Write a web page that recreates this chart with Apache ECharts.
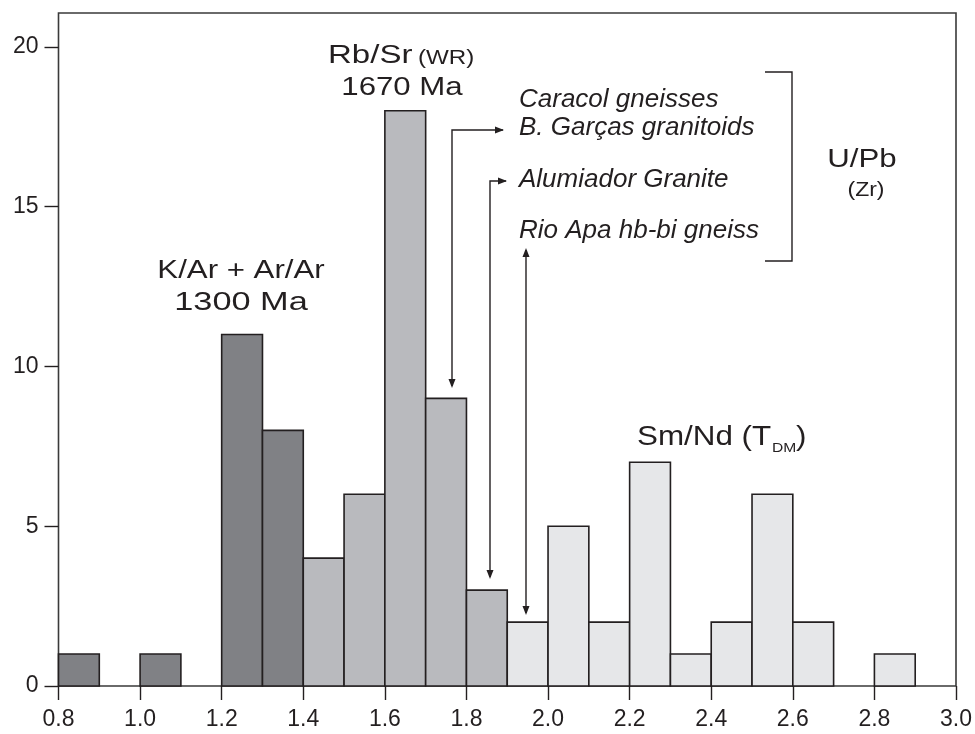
<!DOCTYPE html>
<html>
<head>
<meta charset="utf-8">
<script src="https://cdn.jsdelivr.net/npm/echarts@6/dist/echarts.min.js"></script>
<style>
  html, body { margin: 0; padding: 0; background: #fff; }
  #chart { width: 975px; height: 734px; }
</style>
</head>
<body>
<div id="chart"></div>
<script>
// Age histogram (Ga), bins 0.1 wide, grouped by dating method
const binWidth = 0.1;

const kArBins = [0.8, 1.0, 1.2, 1.3];
const kArCounts = [1, 1, 11, 8];

const rbSrBins = [1.4, 1.5, 1.6, 1.7, 1.8];
const rbSrCounts = [4, 6, 18, 9, 3];

const smNdBins = [1.9, 2.0, 2.1, 2.2, 2.3, 2.4, 2.5, 2.6, 2.8];
const smNdCounts = [2, 5, 2, 7, 1, 2, 6, 2, 1];

const xTicks = [0.8, 1.0, 1.2, 1.4, 1.6, 1.8, 2.0, 2.2, 2.4, 2.6, 2.8, 3.0];
const yTicks = [0, 5, 10, 15, 20];

const ink = '#231f20';
const font = '"Liberation Sans", Arial, Helvetica, sans-serif';

function pairs(bins, counts) {
  return bins.map((b, i) => [b, counts[i]]);
}

function histSeries(name, bins, counts, fill) {
  return {
    name: name,
    type: 'custom',
    data: pairs(bins, counts),
    encode: { x: 0, y: 1 },
    renderItem: function (params, api) {
      const x0 = api.value(0);
      const v = api.value(1);
      const a = api.coord([x0, 0]);
      const b = api.coord([x0 + binWidth, v]);
      return {
        type: 'rect',
        shape: { x: a[0], y: b[1], width: b[0] - a[0], height: a[1] - b[1] },
        style: { fill: fill, stroke: ink, lineWidth: 1.6 }
      };
    },
    z: 2
  };
}

const chart = echarts.init(document.getElementById('chart'), null, { renderer: 'canvas' });

chart.setOption({
  animation: false,
  backgroundColor: '#ffffff',
  grid: {
    left: 58.5, right: 19, top: 13, bottom: 48,
    show: true, borderColor: '#3a3a3a', borderWidth: 1.6, backgroundColor: 'transparent'
  },
  xAxis: {
    type: 'value', min: 0.8, max: 3.0, interval: 0.2,
    axisLine: { show: false },
    splitLine: { show: false },
    axisTick: { show: true, inside: false, length: 14, customValues: xTicks, lineStyle: { color: ink, width: 1.4 } },
    axisLabel: { customValues: xTicks, margin: 22, fontSize: 23, color: ink, fontFamily: font,
      formatter: v => v.toFixed(1) }
  },
  yAxis: {
    type: 'value', min: 0, max: 21.06, interval: 5,
    axisLine: { show: false },
    splitLine: { show: false },
    axisTick: { show: true, inside: false, length: 14, customValues: yTicks, lineStyle: { color: ink, width: 1.4 } },
    axisLabel: { customValues: yTicks, margin: 20, fontSize: 23, color: ink, fontFamily: font }
  },
  series: [
    histSeries('K/Ar + Ar/Ar', kArBins, kArCounts, '#808185'),
    histSeries('Rb/Sr', rbSrBins, rbSrCounts, '#b9babe'),
    histSeries('Sm/Nd', smNdBins, smNdCounts, '#e6e7e9')
  ]
});

// Annotations: method labels, U/Pb bracket and the arrows pointing at the bars.
// The lettering is set slightly wide, hence the horizontal scale factor.
function text(x, y, str, size, opts) {
  opts = opts || {};
  return {
    type: 'text', x: x, y: y, z: 10,
    scaleX: opts.sx || 1,
    style: {
      text: str, fill: ink, font: (opts.italic ? 'italic ' : '') + size + 'px ' + font,
      textAlign: opts.align || 'center', textVerticalAlign: 'middle'
    }
  };
}
function line(points) {
  return { type: 'polyline', z: 10, shape: { points: points }, style: { stroke: ink, lineWidth: 1.4, fill: null } };
}
function head(x, y, dir) {
  const L = 9, W = 3.5;
  let pts;
  if (dir === 'right') pts = [[x, y], [x - L, y - W], [x - L, y + W]];
  if (dir === 'down') pts = [[x, y], [x - W, y - L], [x + W, y - L]];
  if (dir === 'up') pts = [[x, y], [x - W, y + L], [x + W, y + L]];
  return { type: 'polygon', z: 10, shape: { points: pts }, style: { fill: ink } };
}

const it = { italic: true, align: 'left' };

chart.setOption({
  graphic: [
    text(241, 271, 'K/Ar + Ar/Ar', 26, { sx: 1.2 }),
    text(241, 303, '1300 Ma', 26, { sx: 1.32 }),
    text(328, 56, 'Rb/Sr', 26, { align: 'left', sx: 1.27 }),
    text(418, 58, '(WR)', 21, { align: 'left', sx: 1.15 }),
    text(402, 88, '1670 Ma', 26, { sx: 1.2 }),

    text(519, 100, 'Caracol gneisses', 26, it),
    text(519, 128, 'B. Garças granitoids', 26, it),
    text(519, 180, 'Alumiador Granite', 26, it),
    text(519, 231, 'Rio Apa hb-bi gneiss', 26, it),

    line([[765, 72], [792, 72], [792, 261], [765, 261]]),
    text(862, 160, 'U/Pb', 26, { sx: 1.2 }),
    text(866, 190, '(Zr)', 20, { sx: 1.15 }),

    text(637, 437, 'Sm/Nd (T', 28, { align: 'left', sx: 1.12 }),
    text(772, 448, 'DM', 13, { align: 'left', sx: 1.2 }),
    text(796, 437, ')', 28, { align: 'left', sx: 1.12 }),

    line([[503, 130], [452, 130], [452, 386]]),
    head(504, 130, 'right'),
    head(452, 388, 'down'),

    line([[506, 181], [490, 181], [490, 577]]),
    head(507, 181, 'right'),
    head(490, 579, 'down'),

    line([[526, 250], [526, 613]]),
    head(526, 248, 'up'),
    head(526, 615, 'down')
  ]
});
</script>
</body>
</html>
